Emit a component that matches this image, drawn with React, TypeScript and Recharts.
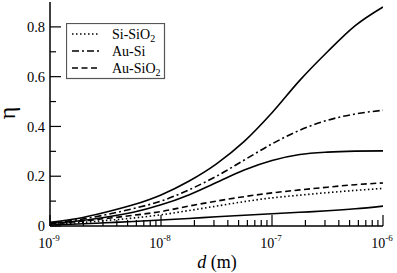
import React from 'react';
import { LineChart, Line, XAxis, YAxis, Legend, Label } from 'recharts';

// log10 of d (m) at the sampled points
const dExp = [-9, -8.75, -8.5, -8.25, -8, -7.75, -7.5, -7.25, -7, -6.75, -6.5, -6.25, -6];

// three unlabelled solid curves
const solidTop = [0.015, 0.03, 0.055, 0.085, 0.125, 0.18, 0.25, 0.34, 0.455, 0.585, 0.7, 0.805, 0.88];
const solidMid = [0.01, 0.02, 0.035, 0.055, 0.085, 0.125, 0.175, 0.225, 0.263, 0.287, 0.297, 0.301, 0.302];
const solidLow = [0.004, 0.008, 0.013, 0.018, 0.024, 0.03, 0.037, 0.043, 0.049, 0.055, 0.061, 0.069, 0.08];

// labelled curves
const siSiO2 = [0.006, 0.013, 0.022, 0.032, 0.045, 0.062, 0.08, 0.098, 0.113, 0.124, 0.134, 0.143, 0.151];
const auSi = [0.012, 0.025, 0.045, 0.07, 0.1, 0.145, 0.2, 0.265, 0.33, 0.385, 0.425, 0.45, 0.465];
const auSiO2 = [0.008, 0.018, 0.03, 0.043, 0.058, 0.08, 0.1, 0.118, 0.133, 0.145, 0.156, 0.166, 0.173];

const legendNames = ['Si-SiO2', 'Au-Si', 'Au-SiO2'];

const xDecades = [-9, -8, -7, -6];
const yMajor = [0, 0.2, 0.4, 0.6, 0.8];
const yMinor = [0.1, 0.3, 0.5, 0.7];

const data = dExp.map((e, i) => ({
  d: Math.pow(10, e),
  solidTop: solidTop[i],
  solidMid: solidMid[i],
  solidLow: solidLow[i],
  siSiO2: siSiO2[i],
  auSi: auSi[i],
  auSiO2: auSiO2[i],
}));

// major decade ticks plus 2..9 minor ticks in between
const xTicks: number[] = [];
xDecades.forEach((e, i) => {
  const lim = i < xDecades.length - 1 ? 9 : 1;
  for (let k = 1; k <= lim; k++) xTicks.push(k * Math.pow(10, e));
});
const yTicks = [...yMajor, ...yMinor].sort((a, b) => a - b);

const FONT = 'Liberation Serif, DejaVu Serif, serif';
const txt = { fontFamily: FONT };
const MAJOR = 11;
const MINOR = 6;
const DOT = '1.5 2.5';
const DASHDOT = '7 3 2 3';
const DASH = '6 3.5';

const isDecade = (v: number) => Math.abs(Math.log10(v) - Math.round(Math.log10(v))) < 1e-6;
const isYMajor = (v: number) => yMajor.some((m) => Math.abs(m - v) < 1e-9);

const BottomTick = ({ x, y, payload }: any) => {
  const major = isDecade(payload.value);
  return (
    <g>
      <line x1={x} x2={x} y1={y} y2={y - (major ? MAJOR : MINOR)} stroke="#000" strokeWidth={1.2} />
      {major && (
        <text x={x - 1} y={y + 22} textAnchor="middle" style={txt} fontSize={14} fill="#000">
          10
          <tspan dy={-7} fontSize={9}>{Math.round(Math.log10(payload.value))}</tspan>
        </text>
      )}
    </g>
  );
};

const TopTick = ({ x, y, payload }: any) => {
  const major = isDecade(payload.value);
  return <line x1={x} x2={x} y1={y} y2={y + (major ? MAJOR : MINOR)} stroke="#000" strokeWidth={1.2} />;
};

const LeftTick = ({ x, y, payload }: any) => {
  const major = isYMajor(payload.value);
  return (
    <g>
      <line x1={x} x2={x + (major ? MAJOR : MINOR)} y1={y} y2={y} stroke="#000" strokeWidth={1.2} />
      {major && (
        <text x={x - 5} y={y} dy="0.35em" textAnchor="end" style={txt} fontSize={14.5} fill="#000">
          {payload.value === 0 ? '0' : payload.value.toFixed(1)}
        </text>
      )}
    </g>
  );
};

const RightTick = ({ x, y, payload }: any) => {
  const major = isYMajor(payload.value);
  return <line x1={x} x2={x - (major ? MAJOR : MINOR)} y1={y} y2={y} stroke="#000" strokeWidth={1.2} />;
};

const withSub = (name: string) => {
  const m = name.match(/^(.*?)(\d)$/);
  if (!m) return name;
  return (
    <>
      {m[1]}
      <tspan dy={3} fontSize={10}>{m[2]}</tspan>
    </>
  );
};

const LegendBox = () => {
  const dashes = [DOT, DASHDOT, DASH];
  return (
    <svg width={100} height={57}>
      <rect x={0.5} y={0.5} width={98} height={55} fill="#fff" stroke="#555" strokeWidth={1.2} />
      {legendNames.map((n, i) => {
        const cy = 11 + i * 17;
        return (
          <g key={n}>
            <line x1={6} x2={34} y1={cy} y2={cy} stroke="#000" strokeWidth={1.5} strokeDasharray={dashes[i]} />
            <text x={46} y={cy + 5} style={txt} fontSize={14} fill="#000">
              {withSub(n)}
            </text>
          </g>
        );
      })}
    </svg>
  );
};

const axisLine = { stroke: '#000', strokeWidth: 1.5 };

export default function App() {
  return (
    <div style={{ position: 'absolute', left: 0, top: 0, width: 397, height: 273, background: '#fff', fontFamily: FONT }}>
      <LineChart width={397} height={273} data={data} margin={{ top: 2, right: 14, left: 0, bottom: 0 }}>
        <XAxis
          dataKey="d"
          type="number"
          scale="log"
          domain={[1e-9, 1e-6]}
          allowDataOverflow
          ticks={xTicks}
          interval={0}
          tickSize={0}
          tickMargin={0}
          tickLine={false}
          tick={<BottomTick />}
          axisLine={axisLine}
          height={47}
        >
          <Label
            content={() => (
              <text x={217} y={268} textAnchor="middle" style={txt} fontSize={18} fill="#000">
                <tspan fontStyle="italic">d</tspan> (m)
              </text>
            )}
          />
        </XAxis>
        <XAxis
          xAxisId="top"
          orientation="top"
          dataKey="d"
          type="number"
          scale="log"
          domain={[1e-9, 1e-6]}
          allowDataOverflow
          ticks={xTicks}
          interval={0}
          tickSize={0}
          tickMargin={0}
          tickLine={false}
          tick={<TopTick />}
          axisLine={axisLine}
          height={0}
        />
        <YAxis
          type="number"
          domain={[0, 0.9]}
          allowDataOverflow
          ticks={yTicks}
          interval={0}
          tickSize={0}
          tickMargin={0}
          tickLine={false}
          tick={<LeftTick />}
          axisLine={axisLine}
          width={50}
        >
          <Label
            content={() => (
              <text x={15} y={113} transform="rotate(-90 15 113)" textAnchor="middle" style={txt} fontSize={24} fill="#000">
                η
              </text>
            )}
          />
        </YAxis>
        <YAxis
          yAxisId="right"
          orientation="right"
          type="number"
          domain={[0, 0.9]}
          allowDataOverflow
          ticks={yTicks}
          interval={0}
          tickSize={0}
          tickMargin={0}
          tickLine={false}
          tick={<RightTick />}
          axisLine={axisLine}
          width={0}
        />
        <Legend
          layout="vertical"
          align="center"
          verticalAlign="middle"
          content={<LegendBox />}
          wrapperStyle={{ position: 'absolute', left: 66, top: 23, width: 100, height: 57 }}
        />
        <Line dataKey="solidTop" type="monotone" stroke="#000" strokeWidth={1.6} dot={false} isAnimationActive={false} legendType="none" />
        <Line dataKey="solidMid" type="monotone" stroke="#000" strokeWidth={1.6} dot={false} isAnimationActive={false} legendType="none" />
        <Line dataKey="solidLow" type="monotone" stroke="#000" strokeWidth={1.6} dot={false} isAnimationActive={false} legendType="none" />
        <Line dataKey="siSiO2" name="Si-SiO2" type="monotone" stroke="#000" strokeWidth={1.6} strokeDasharray={DOT} dot={false} isAnimationActive={false} />
        <Line dataKey="auSi" name="Au-Si" type="monotone" stroke="#000" strokeWidth={1.6} strokeDasharray={DASHDOT} dot={false} isAnimationActive={false} />
        <Line dataKey="auSiO2" name="Au-SiO2" type="monotone" stroke="#000" strokeWidth={1.6} strokeDasharray={DASH} dot={false} isAnimationActive={false} />
      </LineChart>
    </div>
  );
}
